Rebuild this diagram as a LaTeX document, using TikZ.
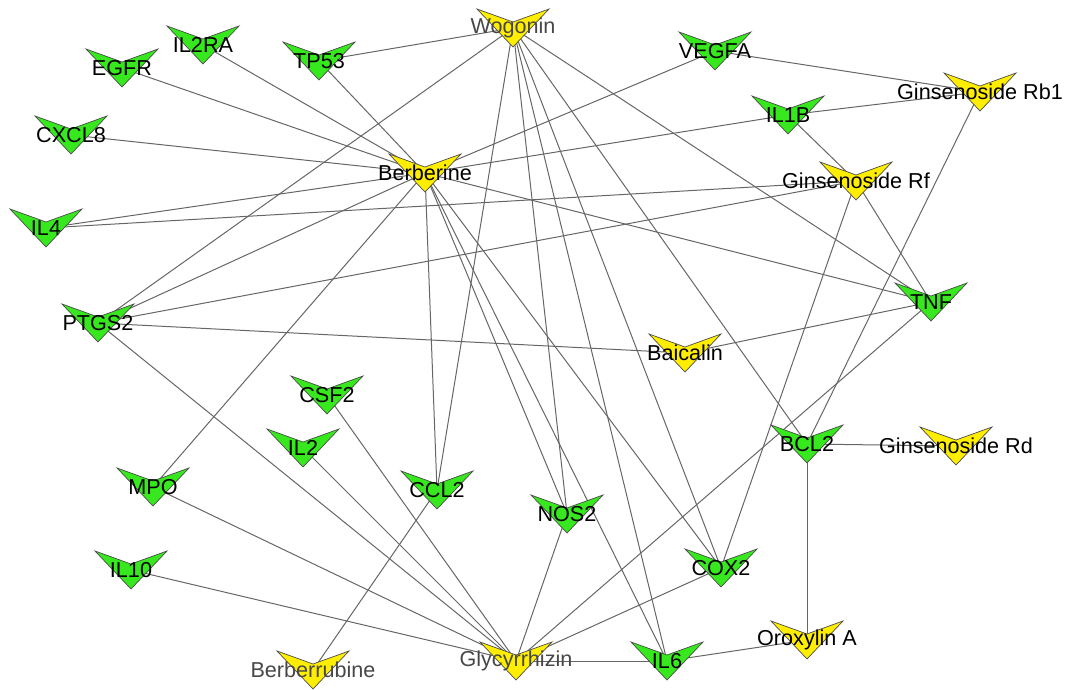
\documentclass[tikz,border=0pt]{standalone}
\usepackage{fontspec}
\setmainfont{Liberation Sans}

\definecolor{genegreen}{RGB}{55,232,30}
\definecolor{herbyellow}{RGB}{255,238,0}

\pgfdeclarelayer{edges}
\pgfdeclarelayer{marks}
\pgfsetlayers{edges,marks,main}

\begin{document}
\begin{tikzpicture}[x=0.5pt,y=-0.5pt]
          \tikzstyle{lbl}=[inner sep=0pt, font=\fontsize{10.8}{13}\selectfont]
          \tikzstyle{faint}=[lbl, text=black!72]
          \tikzstyle{link}=[draw=black!60, line width=0.5pt]
          \tikzstyle{gene}=[fill=genegreen, draw=black!70, line width=0.35pt]
          \tikzstyle{herb}=[fill=herbyellow, draw=black!70, line width=0.35pt]

          \useasboundingbox (0,0) rectangle (1072,690);

          % compounds
          \node (Wogonin) at (513, 28) [faint] {Wogonin};
          \node (Berberine) at (425, 173) [lbl] {Berberine};
          \node (Rb1) at (980, 92) [lbl] {Ginsenoside Rb1};
          \node (Rf) at (856, 181) [lbl] {Ginsenoside Rf};
          \node (Baicalin) at (685, 353) [lbl] {Baicalin};
          \node (Rd) at (956, 446) [lbl] {Ginsenoside Rd};
          \node (Berberrubine) at (313, 670) [faint] {Berberrubine};
          \node (Glycyrrhizin) at (516, 661) [faint] {Glycyrrhizin};
          \node (Oroxylin) at (807, 640) [lbl] {Oroxylin A};

          % targets
          \node (EGFR) at (122, 68) [lbl] {EGFR};
          \node (IL2RA) at (203, 45) [lbl] {IL2RA};
          \node (TP53) at (319, 61) [lbl] {TP53};
          \node (CXCL8) at (71, 135) [lbl] {CXCL8};
          \node (IL4) at (46, 228) [lbl] {IL4};
          \node (VEGFA) at (715, 51) [lbl] {VEGFA};
          \node (IL1B) at (788, 115) [lbl] {IL1B};
          \node (PTGS2) at (98, 323) [lbl] {PTGS2};
          \node (CSF2) at (327, 395) [lbl] {CSF2};
          \node (IL2) at (303, 448) [lbl] {IL2};
          \node (TNF) at (931, 302) [lbl] {TNF};
          \node (BCL2) at (807, 444) [lbl] {BCL2};
          \node (MPO) at (153, 487) [lbl] {MPO};
          \node (IL10) at (131, 570) [lbl] {IL10};
          \node (CCL2) at (437, 490) [lbl] {CCL2};
          \node (NOS2) at (567, 514) [lbl] {NOS2};
          \node (IL6) at (667, 661) [lbl] {IL6};
          \node (COX2) at (721, 568) [lbl] {COX2};

          \begin{pgfonlayer}{marks}
          \foreach \n in {Wogonin, Berberine, Rb1, Rf, Baicalin, Rd, Berberrubine, Glycyrrhizin, Oroxylin}
            \filldraw[herb] (\n.center) +(-36,-19) -- +(0,-6) -- +(36,-19) -- +(0,19) -- cycle;
          \foreach \n in {EGFR, IL2RA, TP53, CXCL8, IL4, VEGFA, IL1B, PTGS2, CSF2, IL2, TNF, BCL2, MPO, IL10, CCL2, NOS2, IL6, COX2}
            \filldraw[gene] (\n.center) +(-36,-19) -- +(0,-6) -- +(36,-19) -- +(0,19) -- cycle;
          \end{pgfonlayer}

          \begin{pgfonlayer}{edges}
          \draw[link] (Wogonin.center) to (TP53.center);
          \draw[link] (Wogonin.center) to (PTGS2.center);
          \draw[link] (Wogonin.center) to (CCL2.center);
          \draw[link] (Wogonin.center) to (NOS2.center);
          \draw[link] (Wogonin.center) to (IL6.center);
          \draw[link] (Wogonin.center) to (COX2.center);
          \draw[link] (Wogonin.center) to (BCL2.center);
          \draw[link] (Wogonin.center) to (TNF.center);

          \draw[link] (Berberine.center) to (EGFR.center);
          \draw[link] (Berberine.center) to (IL2RA.center);
          \draw[link] (Berberine.center) to (TP53.center);
          \draw[link] (Berberine.center) to (CXCL8.center);
          \draw[link] (Berberine.center) to (IL4.center);
          \draw[link] (Berberine.center) to (PTGS2.center);
          \draw[link] (Berberine.center) to (VEGFA.center);
          \draw[link] (Berberine.center) to (IL1B.center);
          \draw[link] (Berberine.center) to (TNF.center);
          \draw[link] (Berberine.center) to (MPO.center);
          \draw[link] (Berberine.center) to (CCL2.center);
          \draw[link] (Berberine.center) to (NOS2.center);
          \draw[link] (Berberine.center) to (IL6.center);
          \draw[link] (Berberine.center) to (COX2.center);

          \draw[link] (Rb1.center) to (VEGFA.center);
          \draw[link] (Rb1.center) to (IL1B.center);
          \draw[link] (Rb1.center) to (BCL2.center);

          \draw[link] (Rf.center) to (IL4.center);
          \draw[link] (Rf.center) to (PTGS2.center);
          \draw[link] (Rf.center) to (IL1B.center);
          \draw[link] (Rf.center) to (TNF.center);
          \draw[link] (Rf.center) to (COX2.center);

          \draw[link] (Baicalin.center) to (PTGS2.center);
          \draw[link] (Baicalin.center) to (TNF.center);

          \draw[link] (Rd.center) to (BCL2.center);
          \draw[link] (Berberrubine.center) to (CCL2.center);

          \draw[link] (Glycyrrhizin.center) to (PTGS2.center);
          \draw[link] (Glycyrrhizin.center) to (MPO.center);
          \draw[link] (Glycyrrhizin.center) to (IL10.center);
          \draw[link] (Glycyrrhizin.center) to (IL2.center);
          \draw[link] (Glycyrrhizin.center) to (CSF2.center);
          \draw[link] (Glycyrrhizin.center) to (NOS2.center);
          \draw[link] (Glycyrrhizin.center) to (TNF.center);
          \draw[link] (Glycyrrhizin.center) to (COX2.center);
          \draw[link] (Glycyrrhizin.center) to (IL6.center);

          \draw[link] (Oroxylin.center) to (BCL2.center);
          \draw[link] (Oroxylin.center) to (IL6.center);
          \end{pgfonlayer}
        \end{tikzpicture}
\end{document}
